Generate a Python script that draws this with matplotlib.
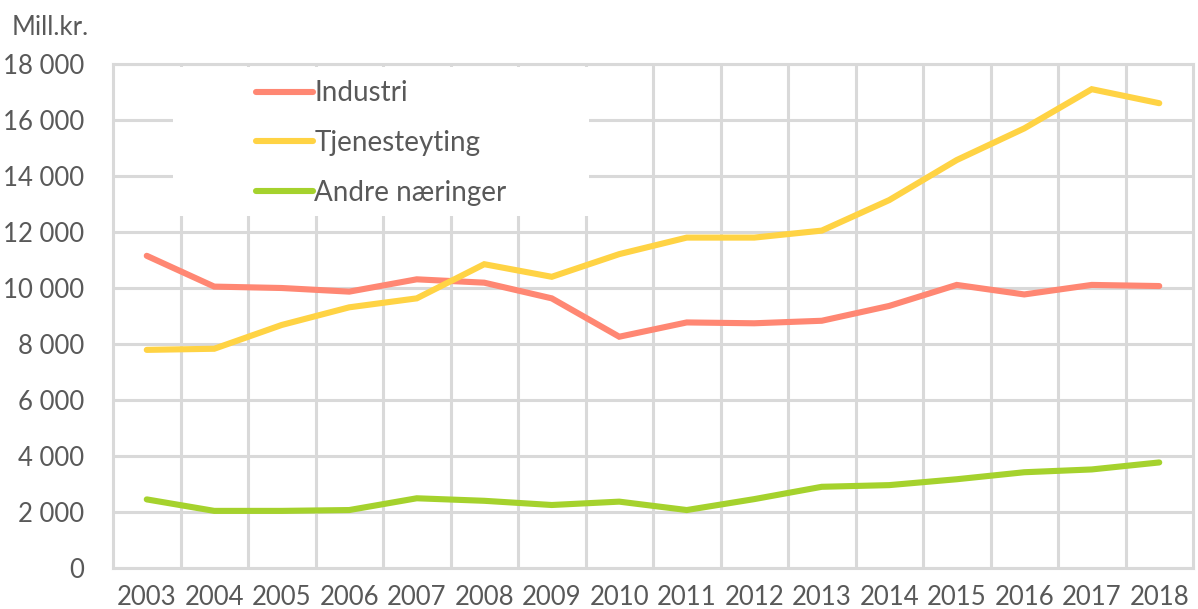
import matplotlib
matplotlib.use("Agg")
import matplotlib.pyplot as plt
from matplotlib.patches import Rectangle
from matplotlib.ticker import FuncFormatter, MultipleLocator, FixedLocator

years = ["2003", "2004", "2005", "2006", "2007", "2008", "2009", "2010",
         "2011", "2012", "2013", "2014", "2015", "2016", "2017", "2018"]
industri = [11150, 10050, 10000, 9870, 10310, 10190, 9630, 8260,
            8770, 8740, 8830, 9360, 10110, 9770, 10110, 10070]
tjenesteyting = [7790, 7830, 8680, 9310, 9630, 10850, 10400, 11210,
                 11800, 11800, 12050, 13140, 14570, 15700, 17100, 16600]
andre = [2450, 2040, 2040, 2070, 2490, 2400, 2250, 2370,
         2070, 2460, 2900, 2960, 3170, 3420, 3520, 3770]
series_names = ["Industri", "Tjenesteyting", "Andre næringer"]
colors = ["#FF8773", "#FFD344", "#A5D22D"]

plt.rcParams['font.family'] = ['Lato', 'DejaVu Sans']
TXT = "#595959"
GRID = "#D9D9D9"
FS = 18.5
LFS = 20

fig = plt.figure(figsize=(11.98, 6.09), dpi=100)
W, H = 1198, 609
left, right, top, bottom = 113, 1193, 64, 568
ax = fig.add_axes([left / W, 1 - bottom / H, (right - left) / W, (bottom - top) / H])

x = list(range(len(years)))
for vals, name, c in zip([industri, tjenesteyting, andre], series_names, colors):
    ax.plot(x, vals, color=c, lw=4.4, solid_capstyle='round', solid_joinstyle='miter',
            label=name, zorder=3)

ax.set_xlim(-0.5, len(years) - 0.5)
ax.set_ylim(0, 18000)
ax.yaxis.set_major_locator(MultipleLocator(2000))
ax.yaxis.set_major_formatter(FuncFormatter(lambda v, p: f"{int(v):,}".replace(",", " ")))
ax.set_xticks(x)
ax.set_xticklabels(years)
ax.xaxis.set_minor_locator(FixedLocator([i + 0.5 for i in range(len(years) - 1)]))

ax.set_axisbelow(True)
ax.grid(True, axis='y', which='major', color=GRID, lw=2.2)
ax.grid(True, axis='x', which='minor', color=GRID, lw=2.2)
ax.grid(False, axis='x', which='major')
for s in ax.spines.values():
    s.set_color(GRID)
    s.set_linewidth(2.2)
    s.set_zorder(2.5)

ax.tick_params(axis='both', which='both', length=0, labelsize=FS, labelcolor=TXT)
ax.tick_params(axis='y', pad=21)
ax.tick_params(axis='x', pad=12)

# white legend background covering gridlines
ax.add_patch(Rectangle((0.0553, 0.6984), 0.441 - 0.0553, 0.995 - 0.6984,
                       transform=ax.transAxes, facecolor='white', edgecolor='none', zorder=1))

leg = ax.legend(loc='center left', bbox_to_anchor=((256 - left) / (right - left), (bottom - 143) / (bottom - top)),
                frameon=False, fontsize=LFS, labelcolor=TXT, borderpad=0, borderaxespad=0,
                handlelength=2.05, handletextpad=0.05, labelspacing=0.85)
leg.set_zorder(4)

fig.text(12 / W, 1 - 35 / H, "Mill.kr.", fontsize=FS, color=TXT, ha='left', va='baseline')

fig.savefig("out.png", dpi=100, facecolor='white')
